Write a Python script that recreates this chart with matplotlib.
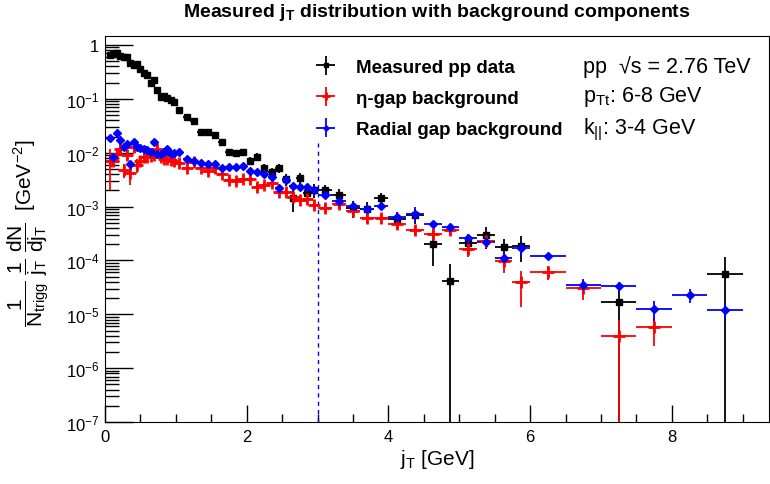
import matplotlib.pyplot as plt
from matplotlib.ticker import FixedLocator, MultipleLocator, LogLocator, NullFormatter
import numpy as np

# bin centres and half widths (GeV)
jt = [0.07, 0.118, 0.165, 0.213, 0.261, 0.308, 0.356, 0.403, 0.451, 0.499,
      0.546, 0.594, 0.642, 0.689, 0.737, 0.785, 0.832, 0.880, 0.927, 0.975,
      1.05, 1.15, 1.25, 1.35, 1.45, 1.55, 1.65, 1.75, 1.85, 1.95,
      2.05, 2.15, 2.25, 2.35, 2.45, 2.55, 2.65, 2.75, 2.85, 2.95,
      3.1, 3.3, 3.5, 3.7, 3.9, 4.125, 4.375, 4.625, 4.875, 5.125,
      5.375, 5.625, 5.875, 6.25, 6.75, 7.25, 7.75, 8.25, 8.75]
jt_hw = [0.024] * 20 + [0.05] * 20 + [0.1] * 5 + [0.125] * 8 + [0.25] * 6

nan = np.nan
measured = [0.66, 0.68, 0.70, 0.62, 0.61, 0.59, 0.46, 0.42, 0.44, 0.36,
            0.30, 0.28, 0.20, 0.22, 0.148, 0.107, 0.114, 0.102, 0.095, 0.088,
            0.063, 0.046, 0.039, 0.0238, 0.0238, 0.0217, 0.0160, 0.0101, 0.0098, 0.0105,
            0.0071, 0.0085, 0.0052, 0.0043, 0.0052, 0.0032, 0.00143, 0.0034, 0.00177, 0.00204,
            0.00204, 0.00165, 0.00096, 0.00089, 0.00143, 0.0006, 0.00069, 0.0002, 4.2e-5, 2.13e-4,
            2.94e-4, 1.74e-4, 1.87e-4, nan, nan, 1.69e-5, nan, nan, 5.7e-5]
measured_rel = [0.03, 0.03, 0.03, 0.03, 0.03, 0.03, 0.03, 0.03, 0.03, 0.03,
                0.03, 0.03, 0.03, 0.03, 0.03, 0.03, 0.03, 0.03, 0.03, 0.03,
                0.05, 0.06, 0.07, 0.09, 0.09, 0.10, 0.11, 0.14, 0.14, 0.14,
                0.17, 0.16, 0.20, 0.20, 0.20, 0.25, 0.45, 0.25, 0.30, 0.30,
                0.25, 0.30, 0.35, 0.35, 0.25, 0.30, 0.30, 0.60, 1.02, 0.35,
                0.45, 0.45, 0.50, 0, 0, 1.02, 0, 0, 1.02]

eta_gap = [0.0069, 0.0071, 0.0094, 0.0117, 0.0048, 0.0090, 0.0042, 0.0126, 0.0059, 0.0071,
           0.0083, 0.0082, 0.0088, 0.0090, 0.0117, 0.0082, 0.0076, 0.0076, 0.0073, 0.0071,
           0.0064, 0.0051, 0.0068, 0.0053, 0.0046, 0.0051, 0.0041, 0.0031, 0.0030, 0.0033,
           0.0032, 0.0023, 0.0025, 0.0027, 0.00183, 0.00188, 0.00148, 0.00132, 0.00137, 0.00106,
           0.00096, 0.00111, 0.00083, 0.00061, 0.00061, 0.00047, 0.00037, 0.00031, 0.00036, 1.66e-4,
           2.28e-4, 9.7e-5, 3.9e-5, 6.1e-5, 3.1e-5, 3.95e-6, 5.7e-6, nan, nan]
eta_gap_rel = [0.70, 0.15, 0.20, 0.25, 0.30, 0.20, 0.40, 0.20, 0.30, 0.15,
               0.15, 0.15, 0.12, 0.12, 0.12, 0.12, 0.12, 0.10, 0.10, 0.10,
               0.10, 0.10, 0.10, 0.10, 0.10, 0.10, 0.10, 0.10, 0.10, 0.10,
               0.12, 0.12, 0.12, 0.12, 0.12, 0.12, 0.12, 0.12, 0.12, 0.12,
               0.15, 0.15, 0.15, 0.20, 0.15, 0.20, 0.20, 0.20, 0.15, 0.30,
               0.25, 0.40, 0.65, 0.30, 0.40, 1.02, 0.55, 0, 0]

radial_gap = [0.0184, 0.0083, 0.0229, 0.0171, 0.0126, 0.0145, 0.0061, 0.0160, 0.0126, 0.0120,
              0.0117, 0.0113, 0.0101, 0.0160, 0.0094, 0.0094, 0.0104, 0.0117, 0.0094, 0.0098,
              0.0101, 0.0078, 0.0071, 0.0064, 0.0063, 0.0063, 0.0052, 0.0055, 0.0055, 0.0057,
              0.0045, 0.0044, 0.0041, 0.0035, 0.0022, 0.0031, 0.00245, 0.00234, 0.00234, 0.00204,
              0.00163, 0.00128, 0.00102, 0.00092, 0.00104, 0.00063, 0.00074, 0.00047, 0.00041, 2.56e-4,
              2.18e-4, 1.11e-4, 1.72e-4, 1.21e-4, 3.46e-5, 3.3e-5, 1.24e-5, 2.3e-5, 1.19e-5]
radial_gap_rel = [0.05, 0.05, 0.05, 0.05, 0.05, 0.05, 0.05, 0.05, 0.05, 0.05,
                  0.05, 0.05, 0.05, 0.05, 0.05, 0.05, 0.05, 0.05, 0.05, 0.05,
                  0.06, 0.06, 0.06, 0.07, 0.07, 0.07, 0.08, 0.08, 0.08, 0.08,
                  0.09, 0.09, 0.09, 0.10, 0.10, 0.10, 0.10, 0.10, 0.10, 0.10,
                  0.10, 0.10, 0.10, 0.10, 0.12, 0.15, 0.30, 0.10, 0.10, 0.20,
                  0.20, 0.25, 0.30, 0.15, 0.30, 0.20, 0.40, 0.30, 0.30]

cut_jt = 3.0

plt.rcParams['font.family'] = ['Liberation Sans', 'DejaVu Sans']
plt.rcParams['mathtext.fontset'] = 'custom'
plt.rcParams['mathtext.rm'] = 'Liberation Sans'
plt.rcParams['mathtext.it'] = 'Liberation Sans:italic'
plt.rcParams['mathtext.bf'] = 'Liberation Sans:bold'

fig = plt.figure(figsize=(7.7, 4.85), dpi=100)
ax = fig.add_axes([0.1364, 0.1278, 0.8623, 0.7959])
ax.set_yscale('log')

series = [
    (measured, measured_rel, 'black', 's', 4.5, 1, 'Measured pp data'),
    (eta_gap, eta_gap_rel, 'red', '+', 9, 2, '\u03b7-gap background'),
    (radial_gap, radial_gap_rel, 'blue', 'D', 4.5, 1, 'Radial gap background'),
]
handles = []
for vals, rel, col, mk, ms, mew, lab in series:
    v = np.array(vals)
    err = v * np.array(rel)
    h = ax.errorbar(jt, v, yerr=err, xerr=jt_hw, fmt=mk, color=col, ms=ms, mew=mew,
                    elinewidth=1.3, capsize=0, label=lab)
    handles.append(h)

# jT cut marker
ax.vlines(cut_jt, 1e-7, 0.015, colors='blue', linestyles=(0, (3, 3)), lw=1)

ax.set_xlim(0, 9.37)
ax.set_ylim(1e-7, 1.47)

ax.xaxis.set_major_locator(MultipleLocator(2))
ax.xaxis.set_minor_locator(MultipleLocator(0.5))
ydec = [1e-7, 1e-6, 1e-5, 1e-4, 1e-3, 1e-2, 1e-1, 1]
ax.yaxis.set_major_locator(FixedLocator(ydec))
ax.set_yticklabels([r'$10^{-7}$', r'$10^{-6}$', r'$10^{-5}$', r'$10^{-4}$',
                    r'$10^{-3}$', r'$10^{-2}$', r'$10^{-1}$', '1'])
ax.yaxis.set_minor_locator(LogLocator(base=10, subs=np.arange(2, 10)))
ax.yaxis.set_minor_formatter(NullFormatter())

ax.tick_params(which='both', direction='in', top=False, right=False, labelsize=12, width=1)
ax.tick_params(axis='y', which='major', length=20, pad=4)
ax.tick_params(axis='y', which='minor', length=10)
ax.tick_params(axis='x', which='major', length=12, pad=5)
ax.tick_params(axis='x', which='minor', length=6)

ax.set_xlabel(r'j$_{\mathrm{T}}$ [GeV]', fontsize=15, labelpad=2)
fig.text(0.038, 0.52,
         r'$\dfrac{1}{\mathrm{N}_{\mathrm{trigg}}}\ \dfrac{1}{\mathrm{j}_{\mathrm{T}}}\ '
         r'\dfrac{\mathrm{dN}}{\mathrm{dj}_{\mathrm{T}}}$  [GeV$^{-2}$]',
         rotation=90, ha='center', va='center', fontsize=15)

fig.text(0.567, 0.975, r'Measured j$_\mathbf{T}$ distribution with background components',
         ha='center', va='center', fontsize=14, weight='bold')

ax.legend(handles=handles, loc='upper left', bbox_to_anchor=(0.27, 0.985), frameon=False,
          prop={'weight': 'bold', 'size': 13.5}, handlelength=2.6, handletextpad=0.35,
          labelspacing=0.75, markerscale=0.6)

ax.text(0.72, 0.922, 'pp  \u221as = 2.76 TeV', transform=ax.transAxes, fontsize=15.5, va='center')
ax.text(0.72, 0.845, r'p$_{\mathrm{Tt}}$: 6-8 GeV', transform=ax.transAxes, fontsize=15.5, va='center')
ax.text(0.72, 0.759, r'k$_{||}$: 3-4 GeV', transform=ax.transAxes, fontsize=15.5, va='center')

fig.savefig('out.png', dpi=100)
